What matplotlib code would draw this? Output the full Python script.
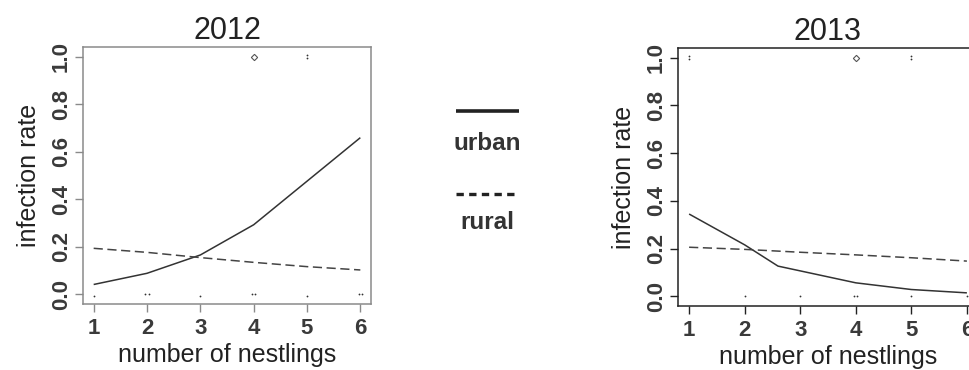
import numpy as np
import matplotlib
matplotlib.use("Agg")
import matplotlib.pyplot as plt

plt.rcParams['font.family'] = ['Liberation Sans', 'DejaVu Sans']

# nestling counts
nestlings = [1, 2, 3, 4, 5, 6]

# 2012 fitted infection rates
urban_2012 = [0.042, 0.089, 0.166, 0.293, 0.476, 0.659]
rural_2012 = [0.194, 0.177, 0.155, 0.135, 0.117, 0.103]

# 2013 fitted infection rates (urban curve bends near 2.6)
urban_x_2013 = [1, 2, 2.6, 4, 5, 6]
urban_2013 = [0.345, 0.216, 0.127, 0.057, 0.029, 0.015]
rural_2013 = [0.206, 0.197, 0.185, 0.174, 0.162, 0.148]

# observed broods (slightly jittered as in the original)
obs_x_2012 = [4, 5, 5, 1, 1.97, 2.03, 3, 3.97, 4.03, 5, 5.97, 6.03]
obs_y_2012 = [1, 1.006, 0.994, -0.007, 0.0, 0.0, -0.007, 0.0, 0.0, -0.007, 0.0, 0.0]
obs_x_2013 = [1, 1, 4, 5, 5, 2, 3, 3.97, 4.03, 5, 6]
obs_y_2013 = [1.006, 0.994, 1, 1.006, 0.994, 0.0, 0.0, 0.0, 0.0, 0.0, 0.0]

years = ['2012', '2013']
yticks = [0.0, 0.2, 0.4, 0.6, 0.8, 1.0]

W, H = 970, 370
fig = plt.figure(figsize=(9.7, 3.7), dpi=100)
ax1 = fig.add_axes([83 / W, 1 - 304 / H, 288 / W, 257 / H])
ax2 = fig.add_axes([678 / W, 1 - 306 / H, 300 / W, 258 / H])


def draw_panel(ax, title, ux, uy, ry, ox, oy, frame_col):
    ax.plot(ux, uy, color='#333333', lw=1.1, solid_capstyle='butt')
    ax.plot(nestlings, ry, color='#444444', lw=1.1, linestyle=(0, (6, 3)))
    big = [i for i in range(len(ox)) if ox[i] == 4 and oy[i] == 1]
    small = [i for i in range(len(ox)) if i not in big]
    ax.plot([ox[i] for i in small], [oy[i] for i in small], 'o', ms=1.3,
            color='#333333', mew=0)
    ax.plot([ox[i] for i in big], [oy[i] for i in big], 'D', ms=3.2,
            mfc='none', mec='#555555', mew=0.8)
    ax.set_xlim(0.8, 6.2)
    ax.set_ylim(-0.04, 1.04)
    ax.set_xticks(nestlings)
    ax.set_yticks(yticks)
    ax.set_yticklabels(['%.1f' % v for v in yticks])
    ax.tick_params(axis='both', direction='out', length=6, width=1,
                   color=frame_col, labelsize=16, labelcolor='#3a3a3a')
    ax.tick_params(axis='x', pad=4)
    ax.tick_params(axis='y', labelrotation=90, pad=2)
    for lab in ax.get_xticklabels():
        lab.set_fontweight('bold')
    for lab in ax.get_yticklabels():
        lab.set_fontweight('bold')
        lab.set_va('center')
    for sp in ax.spines.values():
        sp.set_color(frame_col)
        sp.set_linewidth(1.1)
    ax.set_title(title, fontsize=22, pad=6, color='#222222')
    ax.set_xlabel('number of nestlings', fontsize=18, labelpad=3, color='#222222')
    ax.set_ylabel('infection rate', fontsize=18, labelpad=7, color='#222222')


draw_panel(ax1, years[0], nestlings, urban_2012, rural_2012,
           obs_x_2012, obs_y_2012, '#8a8a8a')
draw_panel(ax2, years[1], urban_x_2013, urban_2013, rural_2013,
           obs_x_2013, obs_y_2013, '#222222')

# legend in the middle (line sample above its label)
leg = fig.add_axes([456 / W, 1 - 235 / H, 63 / W, 135 / H])
leg.set_xlim(0, 1)
leg.set_ylim(0, 1)
leg.axis('off')
leg.plot([0, 1], [0.919, 0.919], color='#222222', lw=2.6, solid_capstyle='butt')
leg.plot([0, 1], [0.304, 0.304], color='#222222', lw=2.4, linestyle=(0, (2.2, 1.6)))
leg.text(0.5, 0.68, 'urban', ha='center', va='center', fontsize=17.5,
         fontweight='bold', color='#333333')
leg.text(0.5, 0.096, 'rural', ha='center', va='center', fontsize=17.5,
         fontweight='bold', color='#333333')

fig.savefig('out.png', dpi=100)
